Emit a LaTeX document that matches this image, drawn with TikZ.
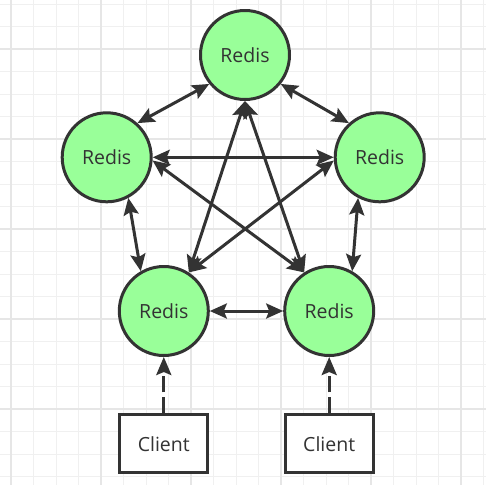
\documentclass[tikz,border=0pt]{standalone}
\usepackage{fontspec}
\setmainfont{Open Sans}
\usetikzlibrary{arrows.meta}
\definecolor{ink}{HTML}{333333}
\definecolor{redisgreen}{HTML}{99FF99}
\definecolor{gridminor}{HTML}{F0F0F0}
\definecolor{gridmajor}{HTML}{E6E6E6}
\tikzset{
  redis/.style={circle, draw=ink, fill=redisgreen, line width=3pt, minimum size=89pt, inner sep=0pt, text=ink, font=\fontsize{19.5}{22}\selectfont},
  client/.style={rectangle, draw=ink, fill=white, line width=3pt, minimum width=88pt, minimum height=58pt, inner sep=0pt, text=ink, font=\fontsize{19.5}{22}\selectfont},
  link/.style={draw=ink, line width=3pt, {Stealth[length=17pt,width=15pt,inset=3pt]}-{Stealth[length=17pt,width=15pt,inset=3pt]}},
  req/.style={draw=ink, line width=3pt, dash pattern=on 16pt off 5pt, -{Stealth[length=18pt,width=15pt,inset=3pt]}},
}
\begin{document}
\begin{tikzpicture}[x=1pt,y=-1pt]
\useasboundingbox (0,0) rectangle (486,485);
\fill[white] (0,0) rectangle (486,485);
% grid
\foreach \i in {0,...,21} {
  \draw[gridminor, line width=1pt] ({11+22.5*\i},0) -- ({11+22.5*\i},485);
}
\foreach \i in {0,...,21} {
  \draw[gridminor, line width=1pt] (0,{4+22.5*\i}) -- (486,{4+22.5*\i});
}
\foreach \i in {0,...,5} {
  \draw[gridmajor, line width=1.4pt] ({11+90*\i},0) -- ({11+90*\i},485);
}
\foreach \i in {0,...,4} {
  \draw[gridmajor, line width=1.4pt] (0,{49+90*\i}) -- (486,{49+90*\i});
}
% nodes
\node[redis] (T) at (245,55) {Redis};
\node[redis] (L) at (106.7,157.3) {Redis};
\node[redis] (R) at (379.7,157.3) {Redis};
\node[redis] (BL) at (163.8,311) {Redis};
\node[redis] (BR) at (329.2,311) {Redis};
\node[client] (C1) at (163.8,443.8) {Client};
\node[client] (C2) at (329.2,443.8) {Client};
% pentagon sides
\draw[link] (T.219) -- (L.48);
\draw[link] (T.321) -- (R.132);
\draw[link] (L.-62) -- (BL.120);
\draw[link] (R.242) -- (BR.60);
\draw[link] (BL.0) -- (BR.180);
% star
\draw[link] (L.0) -- (R.180);
\draw[link] (T.-90) -- (BL.57);
\draw[link] (T.-90) -- (BR.123);
\draw[link] (L.-4) -- (BR.123);
\draw[link] (R.184) -- (BL.57);
% clients
\draw[req] (C1.north) -- (BL.south);
\draw[req] (C2.north) -- (BR.south);
\end{tikzpicture}
\end{document}
